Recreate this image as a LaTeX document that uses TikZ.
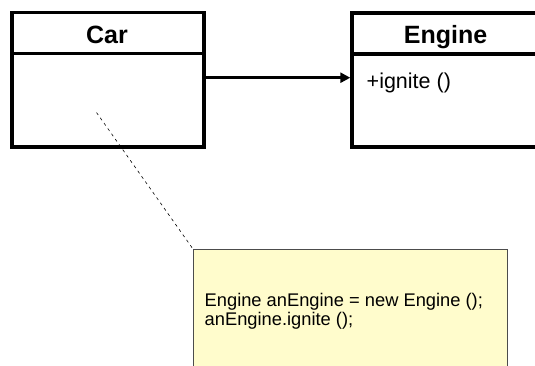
\documentclass[tikz,border=0pt]{standalone}
\usepackage{fontspec}
\setmainfont{Liberation Sans}
\usetikzlibrary{arrows.meta}
\begin{document}
\begin{tikzpicture}[x=1pt,y=-1pt,
  umlbox/.style={draw=black,line width=3.5pt,fill=white,inner sep=0pt,anchor=north west},
  notebox/.style={draw=black!70,line width=0.8pt,fill=yellow!20,inner sep=0pt,anchor=north west},
  title/.style={font=\fontsize{25}{28}\selectfont\bfseries,anchor=base},
  member/.style={font=\fontsize{21.5}{24}\selectfont,anchor=base west,inner sep=0pt},
  notetext/.style={font=\fontsize{18.3}{19.5}\selectfont,align=left,anchor=base west,inner sep=0pt},
  assoc/.style={line width=3.3pt,-{Triangle[length=10pt,width=10pt]}},
  anchorline/.style={line width=0.6pt,dash pattern=on 3pt off 3.5pt}]
\useasboundingbox (0,0) rectangle (535,365);
% Car class
\node[umlbox,minimum width=192pt,minimum height=134.5pt] (car) at (10.3,10.8) {};
\draw[line width=3.3pt] (car.west |- 0,53.8) -- (car.east |- 0,53.8);
\node[title] (carname) at (107,43.3) {Car};
% Engine class
\node[umlbox,minimum width=220pt,minimum height=134pt] (engine) at (350.3,11.3) {};
\draw[line width=3.3pt] (engine.west |- 0,54) -- (engine.east |- 0,54);
\node[title] (enginename) at (445.5,43.3) {Engine};
\node[member] (ignite) at (366.5,88.5) {+ignite ()};
% association
\draw[assoc] (car.east |- 0,77.7) -- (engine.west |- 0,77.7);
% note
\node[notebox,minimum width=314pt,minimum height=140pt] (note) at (193,249) {};
\node[notetext] (code) at (204.5,325.5) {Engine anEngine = new Engine ();\\anEngine.ignite ();};
\coordinate (anchorpt) at (96.5,112.5);
\draw[anchorline] (anchorpt) -- (note.north west);
\end{tikzpicture}
\end{document}
